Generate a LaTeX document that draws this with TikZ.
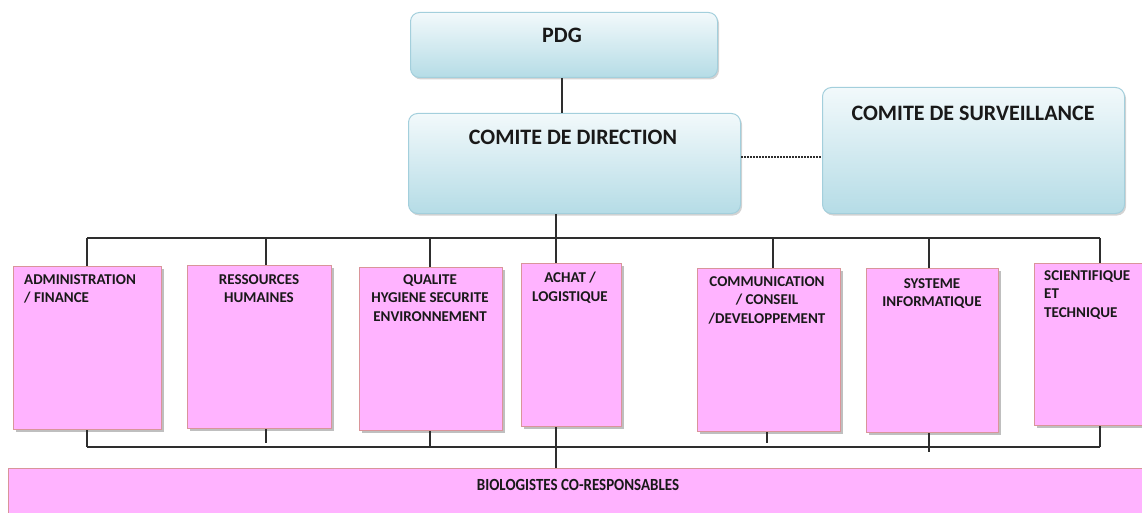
\documentclass[tikz,border=0pt]{standalone}
\usepackage{fontspec}
\setmainfont{Carlito}
\usetikzlibrary{shadows}
\definecolor{linecol}{HTML}{2E2E2E}
\definecolor{bluetop}{HTML}{F2F9FB}
\definecolor{bluebot}{HTML}{B5DCE6}
\definecolor{blueedge}{HTML}{A3CFDC}
\definecolor{pinkfill}{HTML}{FFB3FF}
\definecolor{pinkedge}{HTML}{D9959A}
\tikzset{
  bluebox/.style={rounded corners=9pt, draw=blueedge, line width=1pt,
    top color=bluetop, bottom color=bluebot, anchor=north west,
    drop shadow={shadow xshift=1.5pt, shadow yshift=-2pt, fill=gray, opacity=0.35}},
  pinkbox/.style={draw=pinkedge, line width=1pt, fill=pinkfill, anchor=north west,
    drop shadow={shadow xshift=2pt, shadow yshift=-2pt, fill=gray, opacity=0.5}},
  bigtxt/.style={font=\fontsize{22}{26}\selectfont\bfseries, text=black!90},
  smalltxt/.style={font=\fontsize{15}{18.7}\selectfont\bfseries, text=black!90, inner sep=0pt},
  wire/.style={draw=linecol, line width=1.2pt},
}
\begin{document}
\begin{tikzpicture}[x=1pt,y=-1pt]
\useasboundingbox (0,0) rectangle (1142,513);

% top management boxes
\node[bluebox, minimum width=307pt, minimum height=65pt] (pdg) at (410,12) {};
\node[bigtxt] (pdgt) at (562,35) {PDG};
\node[bluebox, minimum width=332pt, minimum height=100pt] (cd) at (408,113) {};
\node[bigtxt] (cdt) at (573,137) {COMITE DE DIRECTION};
\node[bluebox, minimum width=302pt, minimum height=126pt] (cs) at (822,87) {};
\node[bigtxt] (cst) at (973,113) {COMITE DE SURVEILLANCE};

% department boxes
\node[pinkbox, minimum width=148pt, minimum height=163pt] (adm) at (13,266) {};
\node[smalltxt, anchor=north west, align=left] (admt) at (24,274) {ADMINISTRATION\\/ FINANCE};
\node[pinkbox, minimum width=144pt, minimum height=163pt] (rh) at (187,265) {};
\node[smalltxt, anchor=north, align=center] (rht) at (259,274) {RESSOURCES\\HUMAINES};
\node[pinkbox, minimum width=143pt, minimum height=163pt] (qhs) at (359,267) {};
\node[smalltxt, anchor=north, align=center] (qhst) at (430,274) {QUALITE\\HYGIENE SECURITE\\ENVIRONNEMENT};
\node[pinkbox, minimum width=100pt, minimum height=163pt] (ach) at (521,263) {};
\node[smalltxt, anchor=north, align=center] (acht) at (570,272) {ACHAT /\\LOGISTIQUE};
\node[pinkbox, minimum width=143pt, minimum height=163pt] (com) at (697,268) {};
\node[smalltxt, anchor=north, align=center] (comt) at (767,276) {COMMUNICATION\\/ CONSEIL\\/DEVELOPPEMENT};
\node[pinkbox, minimum width=132pt, minimum height=164pt] (si) at (866,268) {};
\node[smalltxt, anchor=north, align=center] (sit) at (932,278) {SYSTEME\\INFORMATIQUE};
\node[pinkbox, minimum width=118pt, minimum height=162pt] (sci) at (1034,263) {};
\node[smalltxt, anchor=north west, align=left] (scit) at (1044,270) {SCIENTIFIQUE\\ET\\TECHNIQUE};

% bottom band
\node[pinkbox, minimum width=1150pt, minimum height=60pt] (bio) at (8,468) {};
\node[font=\fontsize{17}{20}\selectfont\bfseries, text=black!90, xscale=0.88] (biot) at (578,485) {BIOLOGISTES CO-RESPONSABLES};

% upper connections
\draw[wire] (pdg.south -| 562,0) -- (cd.north -| 562,0);
\draw[draw=linecol, line width=1.6pt, dash pattern=on 1.5pt off 1.5pt] (cd.east |- 0,157) -- (cs.west |- 0,157);
\coordinate (busl) at (87,238);
\coordinate (busr) at (1100,238);
\draw[wire] (busl) -- (busr);
\draw[wire] (cd.south -| 556,0) -- (ach.north -| 556,0);
\draw[wire] (busl) -- (adm.north -| busl);
\draw[wire] (266,238) -- (rh.north -| 266,0);
\draw[wire] (430,238) -- (qhs.north -| 430,0);
\draw[wire] (773,238) -- (com.north -| 773,0);
\draw[wire] (929,238) -- (si.north -| 929,0);
\draw[wire] (busr) -- (sci.north -| busr);

% lower connections
\coordinate (lbusl) at (87,447);
\coordinate (lbusr) at (1100,447);
\draw[wire] (lbusl) -- (lbusr);
\draw[wire] (adm.south -| lbusl) -- (lbusl);
\draw[wire] (rh.south -| 266,0) -- (266,443);
\draw[wire] (qhs.south -| 430,0) -- (430,447);
\draw[wire] (ach.south -| 556,0) -- (bio.north -| 556,0);
\draw[wire] (com.south -| 767,0) -- (767,443);
\draw[wire] (si.south -| 929,0) -- (929,452);
\draw[wire] (sci.south -| lbusr) -- (lbusr);
\end{tikzpicture}
\end{document}
